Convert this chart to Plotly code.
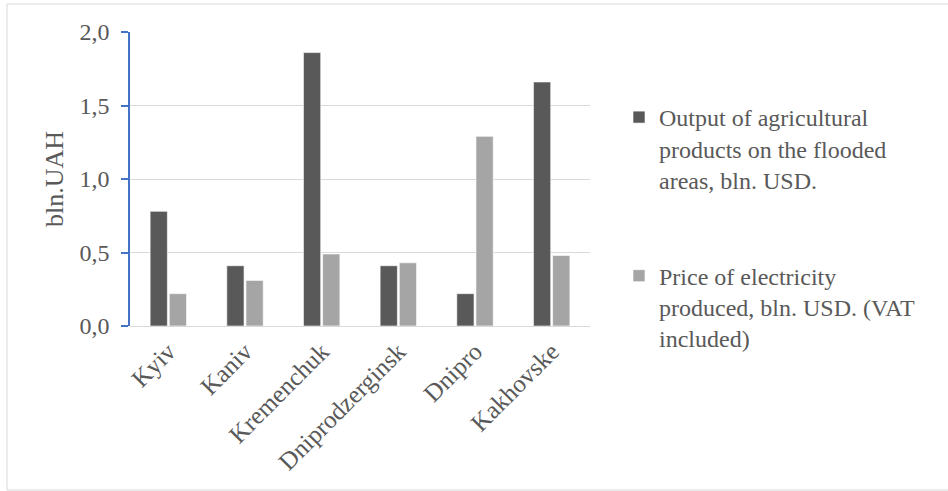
import plotly.graph_objects as go

categories = ["Kyiv", "Kaniv", "Kremenchuk", "Dniprodzerginsk", "Dnipro", "Kakhovske"]
agri_output = [0.78, 0.41, 1.86, 0.41, 0.22, 1.66]
electricity_price = [0.22, 0.31, 0.49, 0.43, 1.29, 0.48]
series_names = [
    "Output of agricultural<br>products on the flooded<br>areas, bln. USD.",
    "Price of electricity<br>produced, bln. USD. (VAT<br>included)",
]
y_ticks = [0.0, 0.5, 1.0, 1.5, 2.0]

FONT = "Liberation Serif"
TXT = "#595959"

fig = go.Figure()
fig.add_trace(go.Bar(x=categories, y=agri_output, name=series_names[0],
                     marker=dict(color="#595959", line=dict(color="#ffffff", width=0.6)),
                     legendgroup="a"))
fig.add_trace(go.Bar(x=categories, y=electricity_price, name=series_names[1],
                     marker=dict(color="#a5a5a5", line=dict(color="#ffffff", width=0.6)),
                     legendgroup="b"))

W, H = 948, 491
L, R, T, B = 130, 590, 32, 326
pw, ph = R - L, B - T

def px_x(p):
    return (p - L) / pw

def px_y(p):
    return (B - p) / ph

fig.update_layout(
    width=W, height=H,
    margin=dict(l=L, r=W - R, t=T, b=H - B),
    paper_bgcolor="white", plot_bgcolor="white",
    separators=", ",
    barmode="group", bargap=0.5, bargroupgap=0.1,
    font=dict(family=FONT, color=TXT, size=24),
    showlegend=True,
    legend=dict(
        x=px_x(619), xanchor="left",
        y=px_y(95), yanchor="top",
        font=dict(family=FONT, color=TXT, size=24),
        valign="top",
        tracegroupgap=62,
        bgcolor="rgba(0,0,0,0)",
    ),
    xaxis=dict(
        type="category",
        tickangle=-45,
        tickfont=dict(family=FONT, color=TXT, size=25),
        showline=False, showgrid=False, ticks="",
        ticklabelstandoff=5,
    ),
    yaxis=dict(
        range=[0, 2.0],
        tickvals=y_ticks,
        tickformat=".1f",
        tickfont=dict(family=FONT, color=TXT, size=24),
        showgrid=True, gridcolor="#d9d9d9", gridwidth=1,
        zeroline=True, zerolinecolor="#d9d9d9", zerolinewidth=1,
        showline=True, linecolor="#4472c4", linewidth=1.5,
        ticks="outside", ticklen=7, tickcolor="#4472c4", tickwidth=1.5,
        ticklabelstandoff=7,
        title=dict(text="bln.UAH", font=dict(family=FONT, color=TXT, size=26), standoff=8),
    ),
    shapes=[dict(type="rect", xref="paper", yref="paper",
                 x0=px_x(7), x1=px_x(952), y0=px_y(490), y1=px_y(4),
                 line=dict(color="#d9d9d9", width=1), fillcolor="rgba(0,0,0,0)", layer="below")],
)

fig.write_html("out.html")
